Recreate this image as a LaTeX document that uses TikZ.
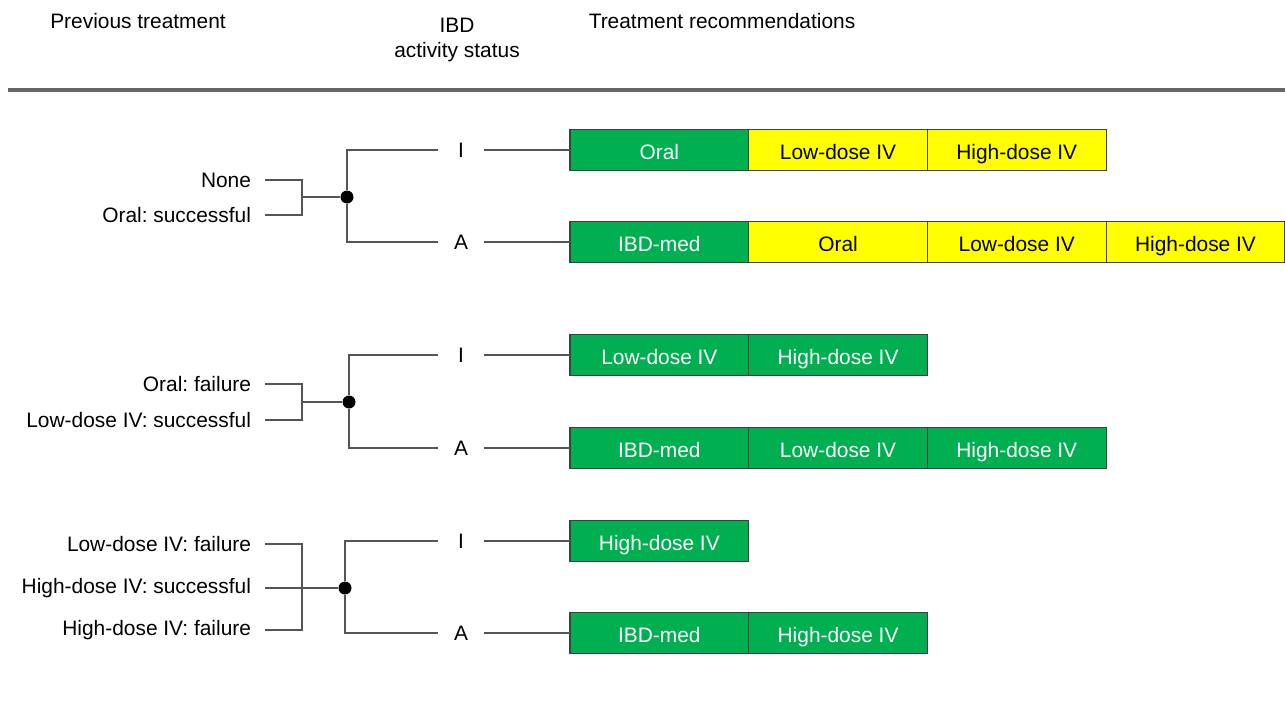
\documentclass[tikz,border=0pt]{standalone}
\usepackage{fontspec}
\setmainfont{Liberation Sans}
\usetikzlibrary{positioning}
\definecolor{recgreen}{RGB}{0,176,80}
\definecolor{recyellow}{RGB}{255,255,0}
\definecolor{linegray}{RGB}{85,85,85}
\frenchspacing

\begin{document}
\begin{tikzpicture}[x=0.02cm,y=-0.02cm,
  every node/.style={font=\fontsize{11.9}{14.2}\selectfont},
  prev/.style={anchor=east,inner sep=0pt,outer xsep=0.28cm},
  status/.style={inner sep=0pt,minimum width=0.9cm,minimum height=0.5cm},
  hub/.style={circle,fill=black,inner sep=0pt,minimum size=0.26cm},
  rec/.style={draw=black!75,line width=0.7pt,minimum width=3.575cm,minimum height=0.82cm,
    inner sep=0pt,outer sep=0pt,text height=10.6pt,text depth=0.3pt},
  recg/.style={rec,fill=recgreen,text=white},
  recy/.style={rec,fill=recyellow,text=black},
  tree/.style={draw=linegray,line width=1.2pt}]
   \useasboundingbox (0,0) rectangle (1285,700);
   % headings
   \node (hprev) at (138,21) {Previous treatment};
   \node[align=center] (hstat) at (457,40) {IBD\\activity status};
   \node (hrec) at (722,21) {Treatment recommendations};
   \draw[line width=2pt,black!60] (8,90) -- (1285,90);

   % first group
   \node[prev] (p11) at (265,180) {None};
   \node[prev] (p12) at (265,215) {Oral: successful};
   \coordinate (f1) at (302,197);
   \node[hub] (h1) at (347,197) {};
   \node[status] (s1i) at (461,150) {I};
   \node[status] (s1a) at (461,242) {A};
   \node[recg,anchor=west] (r1i1) at (570,150) {Oral};
   \node[recy,right=0pt of r1i1] (r1i2) {Low-dose IV};
   \node[recy,right=0pt of r1i2] (r1i3) {High-dose IV};
   \node[recg,anchor=west] (r1a1) at (570,242) {IBD-med};
   \node[recy,right=0pt of r1a1] (r1a2) {Oral};
   \node[recy,right=0pt of r1a2] (r1a3) {Low-dose IV};
   \node[recy,right=0pt of r1a3] (r1a4) {High-dose IV};
   \draw[tree] (p11.east) -| (f1) (p12.east) -| (f1) (f1) -- (h1);
   \draw[tree] (h1) |- (s1i) (h1) |- (s1a) (s1i) -- (r1i1) (s1a) -- (r1a1);

   % second group
   \node[prev] (p21) at (265,384) {Oral: failure};
   \node[prev] (p22) at (265,420) {Low-dose IV: successful};
   \coordinate (f2) at (302,402);
   \node[hub] (h2) at (349,402) {};
   \node[status] (s2i) at (461,355) {I};
   \node[status] (s2a) at (461,448) {A};
   \node[recg,anchor=west] (r2i1) at (570,355) {Low-dose IV};
   \node[recg,right=0pt of r2i1] (r2i2) {High-dose IV};
   \node[recg,anchor=west] (r2a1) at (570,448) {IBD-med};
   \node[recg,right=0pt of r2a1] (r2a2) {Low-dose IV};
   \node[recg,right=0pt of r2a2] (r2a3) {High-dose IV};
   \draw[tree] (p21.east) -| (f2) (p22.east) -| (f2) (f2) -- (h2);
   \draw[tree] (h2) |- (s2i) (h2) |- (s2a) (s2i) -- (r2i1) (s2a) -- (r2a1);

   % third group
   \node[prev] (p31) at (265,544) {Low-dose IV: failure};
   \node[prev] (p32) at (265,588) {High-dose IV: successful};
   \node[prev] (p33) at (265,630) {High-dose IV: failure};
   \coordinate (f3t) at (302,544);
   \coordinate (f3b) at (302,630);
   \node[hub] (h3) at (345,588) {};
   \node[status] (s3i) at (461,541) {I};
   \node[status] (s3a) at (461,633) {A};
   \node[recg,anchor=west] (r3i1) at (570,541) {High-dose IV};
   \node[recg,anchor=west] (r3a1) at (570,633) {IBD-med};
   \node[recg,right=0pt of r3a1] (r3a2) {High-dose IV};
   \draw[tree] (p31.east) -- (f3t) -- (f3b) -- (p33.east) (p32.east) -- (h3);
   \draw[tree] (h3) |- (s3i) (h3) |- (s3a) (s3i) -- (r3i1) (s3a) -- (r3a1);
\end{tikzpicture}
\end{document}
